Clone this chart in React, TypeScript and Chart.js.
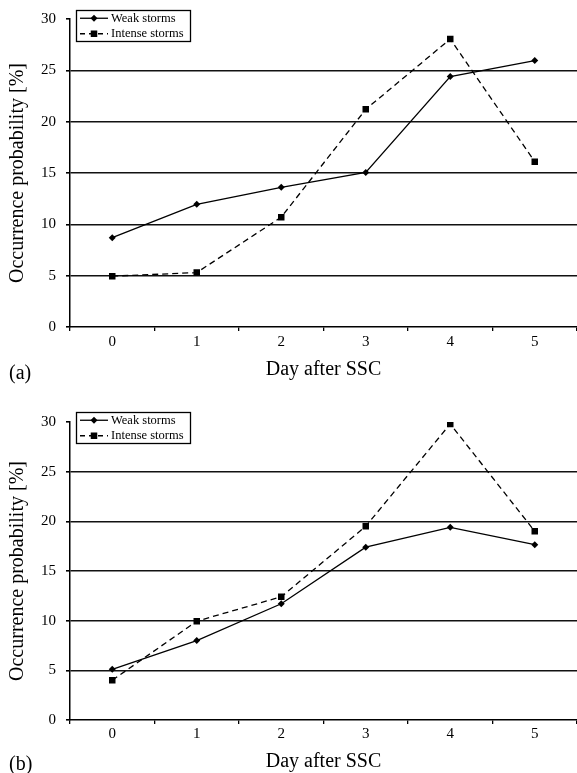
import React, { useEffect, useRef } from 'react';
import { Chart, registerables } from 'chart.js';

Chart.register(...registerables);

// ---- data ----
const days = ['0', '1', '2', '3', '4', '5'];
const weakA = [8.7, 11.95, 13.6, 15.05, 24.4, 25.95];
const intenseA = [4.95, 5.3, 10.7, 21.2, 28.05, 16.1];
const weakB = [5.1, 8.0, 11.7, 17.4, 19.4, 17.65];
const intenseB = [4.0, 9.95, 12.4, 19.5, 29.8, 19.0];
const yMin = 0;
const yMax = 30;
const yStep = 5;
const seriesLabels = ['Weak storms', 'Intense storms'];
const xTitle = 'Day after SSC';
const yTitle = 'Occurrence probability [%]';
const panelLabels = ['(a)', '(b)'];

const FONT = "'Liberation Serif', 'Times New Roman', serif";

const boxLegend = {
  id: 'boxLegend',
  afterDraw(chart: any, _args: any, opts: any) {
    const { ctx } = chart;
    const { x, y, w, h } = opts;
    ctx.save();
    ctx.fillStyle = '#fff';
    ctx.fillRect(x, y, w, h);
    ctx.strokeStyle = '#000';
    ctx.lineWidth = 1.3;
    ctx.setLineDash([]);
    ctx.strokeRect(x + 0.5, y + 0.5, w, h);
    const n = chart.data.datasets.length;
    chart.data.datasets.forEach((ds: any, i: number) => {
      const cy = y + (h * (i + 0.5)) / n + 0.5;
      const x0 = x + 4;
      const x1 = x0 + 28;
      const mx = (x0 + x1) / 2;
      ctx.strokeStyle = '#000';
      ctx.lineWidth = ds.borderWidth;
      if (ds.borderDash && ds.borderDash.length) {
        ctx.setLineDash([5, 4]);
        ctx.lineDashOffset = 0;
      } else {
        ctx.setLineDash([]);
      }
      ctx.beginPath();
      ctx.moveTo(x0, cy);
      ctx.lineTo(x1, cy);
      ctx.stroke();
      ctx.setLineDash([]);
      ctx.fillStyle = '#000';
      const r = ds.pointRadius;
      if (ds.pointStyle === 'rect') {
        const s = Math.SQRT1_2 * r;
        ctx.fillRect(mx - s, cy - s, 2 * s, 2 * s);
      } else {
        ctx.beginPath();
        ctx.moveTo(mx - r, cy);
        ctx.lineTo(mx, cy - r);
        ctx.lineTo(mx + r, cy);
        ctx.lineTo(mx, cy + r);
        ctx.closePath();
        ctx.fill();
      }
      ctx.font = `12.5px ${FONT}`;
      ctx.textAlign = 'left';
      ctx.textBaseline = 'middle';
      ctx.fillText(ds.label, x1 + 3, cy);
    });
    ctx.restore();
  },
};

type PanelProps = {
  weak: number[];
  intense: number[];
  width: number;
  height: number;
  padTop: number;
  xAxisHeight: number;
  xTickPad: number;
  xTitlePad: number;
  legendY: number;
};

function Panel(p: PanelProps) {
  const ref = useRef<HTMLCanvasElement | null>(null);
  useEffect(() => {
    if (!ref.current) return;
    const chart = new Chart(ref.current, {
      type: 'line',
      data: {
        labels: days,
        datasets: [
          {
            label: seriesLabels[0],
            data: p.weak,
            borderColor: '#000',
            backgroundColor: '#000',
            borderWidth: 1.3,
            pointStyle: 'rectRot',
            pointRadius: 3.5,
            pointBorderWidth: 0,
            pointBackgroundColor: '#000',
            tension: 0,
          },
          {
            label: seriesLabels[1],
            data: p.intense,
            borderColor: '#000',
            backgroundColor: '#000',
            borderWidth: 1.3,
            borderDash: [6, 4],
            pointStyle: 'rect',
            pointRadius: 4.6,
            pointBorderWidth: 0,
            pointBackgroundColor: '#000',
            tension: 0,
          },
        ],
      },
      options: {
        animation: false,
        responsive: false,
        devicePixelRatio: 1,
        layout: { autoPadding: false, padding: { top: p.padTop, left: 0, right: 0, bottom: 0 } },
        plugins: {
          legend: { display: false },
          tooltip: { enabled: false },
          boxLegend: { x: 76, y: p.legendY, w: 114, h: 31 },
        } as any,
        scales: {
          x: {
            type: 'category',
            offset: true,
            grid: {
              offset: true,
              drawOnChartArea: false,
              drawTicks: true,
              tickLength: 4,
              color: '#000',
              lineWidth: 1.3,
            },
            border: { display: true, color: '#000', width: 1.5 },
            ticks: {
              color: '#000',
              padding: p.xTickPad,
              font: { family: FONT, size: 15 },
              maxRotation: 0,
            },
            title: {
              display: true,
              text: xTitle,
              color: '#000',
              font: { family: FONT, size: 20, lineHeight: 1 },
              padding: { top: 0, bottom: p.xTitlePad },
            },
            afterFit: (s: any) => {
              s.height = p.xAxisHeight;
              s.paddingLeft = 0;
              s.paddingRight = 0;
            },
          },
          y: {
            min: yMin,
            max: yMax,
            ticks: {
              stepSize: yStep,
              color: '#000',
              padding: 10,
              font: { family: FONT, size: 15 },
            },
            grid: {
              color: (c: any) =>
                c.tick && (c.tick.value === yMax || c.tick.value === yMin) ? 'rgba(0,0,0,0)' : '#111',
              tickColor: '#000',
              lineWidth: 1.6,
              tickLength: 4,
              drawTicks: true,
            },
            border: { display: true, color: '#000', width: 1.5 },
            title: {
              display: true,
              text: yTitle,
              color: '#000',
              font: { family: FONT, size: 20, lineHeight: 1.2 },
              padding: { top: 6, bottom: 0 },
            },
            afterFit: (s: any) => {
              s.width = 70;
              s.paddingTop = 0;
              s.paddingBottom = 0;
            },
          },
        },
      },
      plugins: [boxLegend],
    } as any);
    return () => chart.destroy();
  }, []);
  return <canvas ref={ref} width={p.width} height={p.height} style={{ display: 'block' }} />;
}

export default function App() {
  const labelStyle: React.CSSProperties = {
    position: 'absolute',
    left: 9,
    fontFamily: FONT,
    fontSize: 20,
    lineHeight: '24px',
    color: '#000',
  };
  return (
    <div
      style={{
        position: 'absolute',
        left: 0,
        top: 0,
        width: 577,
        height: 773,
        overflow: 'hidden',
        background: '#fff',
      }}
    >
      <div style={{ position: 'absolute', left: 0, top: 0 }}>
        <Panel
          weak={weakA}
          intense={intenseA}
          width={577}
          height={390}
          padTop={19}
          xAxisHeight={63}
          xTickPad={2}
          xTitlePad={10}
          legendY={10}
        />
      </div>
      <div style={{ position: 'absolute', left: 0, top: 390 }}>
        <Panel
          weak={weakB}
          intense={intenseB}
          width={577}
          height={383}
          padTop={32}
          xAxisHeight={53}
          xTickPad={1}
          xTitlePad={1}
          legendY={22}
        />
      </div>
      <div style={{ ...labelStyle, top: 360 }}>{panelLabels[0]}</div>
      <div style={{ ...labelStyle, top: 751 }}>{panelLabels[1]}</div>
    </div>
  );
}
